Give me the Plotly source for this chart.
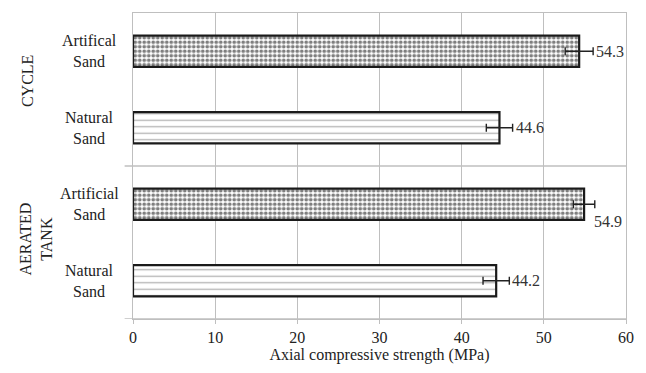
import plotly.graph_objects as go

groups = ["CYCLE", "CYCLE", "AERATED TANK", "AERATED TANK"]
sands = ["Artifical<br>Sand", "Natural<br>Sand", "Artificial<br>Sand", "Natural<br>Sand"]
cat_ids = ["c_art", "c_nat", "a_art", "a_nat"]
values = [54.3, 44.6, 54.9, 44.2]
errors = [1.7, 1.6, 1.3, 1.6]
kinds = ["art", "nat", "art", "nat"]
group_labels = ["CYCLE", "AERATED<br>TANK"]
x_ticks = [0, 10, 20, 30, 40, 50, 60]

FONT = "Liberation Serif, Times New Roman, serif"
GRID = "#bfbfbf"
FS = 16

fig = go.Figure()

for kind, shape, size, sol, fg in [("art", ".", 4.5, 0.55, "#000"), ("nat", "-", 6.5, 0.2, "#666")]:
    idx = [i for i, k in enumerate(kinds) if k == kind]
    fig.add_trace(go.Bar(
        y=[cat_ids[i] for i in idx],
        x=[values[i] for i in idx],
        orientation="h",
        width=0.41,
        marker=dict(color="white",
                    line=dict(color="#1a1a1a", width=2.2),
                    pattern=dict(shape=shape, size=size, solidity=sol,
                                 fgcolor=fg, bgcolor="white", fillmode="overlay")),
        error_x=dict(type="data", array=[errors[i] for i in idx], color="#222",
                     thickness=1.4, width=4),
        showlegend=False,
    ))

# value labels
for i, (c, v, e) in enumerate(zip(cat_ids, values, errors)):
    below = (c == "a_art")
    fig.add_annotation(x=v + e if not below else v + e - 0.2, y=c, xref="x", yref="y",
                       text=f"{v}", showarrow=False, xanchor="left",
                       xshift=1 if not below else -1, yshift=-17 if below else 0,
                       font=dict(family=FONT, size=FS, color="#333"))

# category labels
for c, s in zip(cat_ids, sands):
    fig.add_annotation(x=-0.089, y=c, xref="paper", yref="y", text=s,
                       showarrow=False, xanchor="center", align="center",
                       font=dict(family=FONT, size=FS, color="#222"))

# group labels
fig.add_annotation(x=-0.215, y=0.39, xref="paper", yref="y", text=group_labels[0],
                   textangle=-90, showarrow=False, xanchor="center", yanchor="middle",
                   align="center", font=dict(family=FONT, size=FS, color="#222"))
fig.add_annotation(x=-0.197, y=2.45, xref="paper", yref="y", text=group_labels[1],
                   textangle=-90, showarrow=False, xanchor="center", yanchor="middle",
                   align="center", font=dict(family=FONT, size=FS, color="#222"))

# group separators
for yv in [1.5, 3.5]:
    fig.add_shape(type="line", xref="paper", yref="y", x0=-0.017, x1=1, y0=yv, y1=yv,
                  line=dict(color=GRID, width=1.3), layer="below")

fig.update_layout(
    width=646, height=373,
    margin=dict(l=133, r=19, t=12, b=49),
    paper_bgcolor="white", plot_bgcolor="white",
    bargap=0.59,
    font=dict(family=FONT, size=FS, color="#222"),
)
fig.update_xaxes(range=[0, 60], tickvals=x_ticks, showgrid=True, gridcolor=GRID,
                 gridwidth=1.2, showline=True, linecolor=GRID, linewidth=1.3, mirror=True,
                 ticks="outside", ticklen=4, tickcolor=GRID, zeroline=False,
                 tickfont=dict(family=FONT, size=FS, color="#222"),
                 title=dict(text="Axial compressive strength (MPa)", standoff=3,
                            font=dict(family=FONT, size=FS, color="#222")))
fig.update_yaxes(type="category", categoryorder="array", categoryarray=cat_ids,
                 range=[3.5, -0.5], showticklabels=False, showgrid=False,
                 showline=True, linecolor=GRID, linewidth=1.3, mirror=True, ticks="")

fig.write_html("out.html")
